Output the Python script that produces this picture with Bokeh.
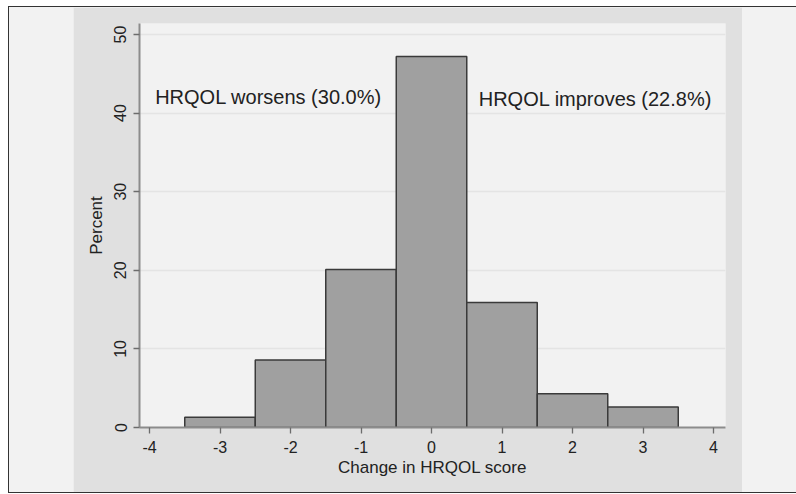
from bokeh.plotting import figure
from bokeh.models import Range1d, FixedTicker, Spacer, Row, ColumnDataSource
from bokeh.core.properties import value
from bokeh.embed import file_html
from bokeh.resources import INLINE

# Data
bin_centers = [-3, -2, -1, 0, 1, 2, 3]
percents = [1.3, 8.6, 20.1, 47.2, 15.9, 4.3, 2.6]
x_ticks = [-4, -3, -2, -1, 0, 1, 2, 3, 4]
x_tick_labels = ["-4", "-3", "-2", "-1", "0", "1", "2", "3", "4"]
y_ticks = [0, 10, 20, 30, 40, 50]
y_tick_labels = ["0", "10", "20", "30", "40", "50"]
annot_text = ["HRQOL worsens (30.0%)", "HRQOL improves (22.8%)"]
annot_x = [-3.92, 3.98]
annot_y = [42, 41.8]
annot_align = ["left", "right"]

FONT = "Liberation Sans"

src = ColumnDataSource(dict(
    left=[c - 0.5 for c in bin_centers],
    right=[c + 0.5 for c in bin_centers],
    top=percents,
    bottom=[0] * len(percents),
))

p = figure(width=669, height=485, output_backend="svg", toolbar_location=None,
           x_range=Range1d(-4.142, 4.17), y_range=Range1d(0, 51.4),
           min_border_left=66, min_border_right=17, min_border_top=16, min_border_bottom=65)
p.background_fill_color = "#f2f2f2"
p.border_fill_color = "#e0e0e0"
p.outline_line_color = None

p.xgrid.grid_line_color = None
p.ygrid.grid_line_color = "#e4e4e4"
p.ygrid.grid_line_width = 1.5

p.quad(left="left", right="right", top="top", bottom="bottom", source=src,
       fill_color="#a0a0a0", line_color="#3a3a3a", line_width=1.5)

for t, x, y, a in zip(annot_text, annot_x, annot_y, annot_align):
    p.text(x=[x], y=[y], text=[t], text_align=a, text_baseline="middle",
           text_font=value(FONT), text_font_size="20px", text_color="#222222")

for ax in (p.xaxis[0], p.yaxis[0]):
    ax.axis_line_color = "#8c8c8c"
    ax.axis_line_width = 2
    ax.major_tick_line_color = "#6c6c6c"
    ax.major_tick_line_width = 1.3
    ax.major_tick_out = 6
    ax.major_tick_in = 0
    ax.minor_tick_line_color = None
    ax.major_label_text_font = FONT
    ax.major_label_text_font_size = "16px"
    ax.major_label_text_color = "#222222"
    ax.axis_label_text_font = FONT
    ax.axis_label_text_font_size = "17px"
    ax.axis_label_text_font_style = "normal"
    ax.axis_label_text_color = "#222222"

p.xaxis.ticker = FixedTicker(ticks=x_ticks)
p.yaxis.ticker = FixedTicker(ticks=y_ticks)
p.xaxis.major_label_overrides = {t: l for t, l in zip(x_ticks, x_tick_labels)}
p.yaxis.major_label_overrides = {t: l for t, l in zip(y_ticks, y_tick_labels)}
p.xaxis.axis_label = "Change in HRQOL score"
p.yaxis.axis_label = "Percent"
p.yaxis.major_label_orientation = "vertical"
p.xaxis.major_label_standoff = 7
p.yaxis.major_label_standoff = 7
p.xaxis.axis_label_standoff = 2
p.yaxis.axis_label_standoff = 6

left_sp = Spacer(width=64, height=485, styles={"background-color": "#f2f2f2"})
right_sp = Spacer(width=54, height=485, styles={"background-color": "#f2f2f2"})
layout = Row(children=[left_sp, p, right_sp],
             styles={"background-color": "#f2f2f2",
                     "margin": "6px 0 0 8px",
                     "border-top": "1px solid #333333",
                     "border-left": "1px solid #333333",
                     "border-bottom": "1px solid #333333"})

open("out.html", "w").write(file_html(layout, INLINE))
